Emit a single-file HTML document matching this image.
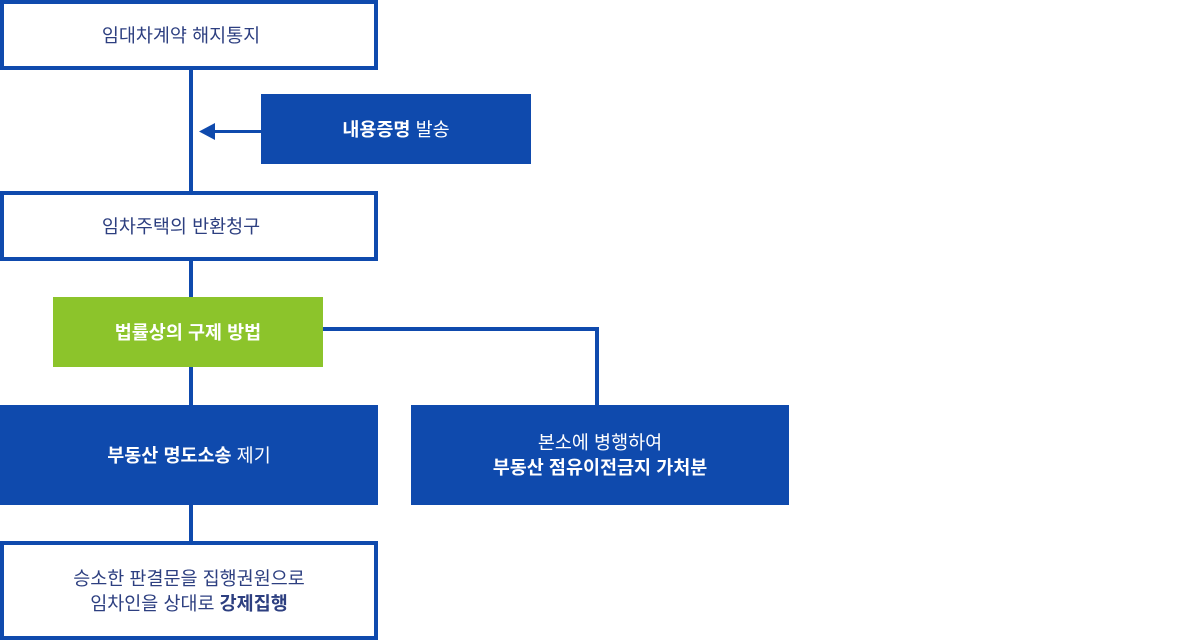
<!DOCTYPE html>
<html><head><meta charset="utf-8"><style>
body{margin:0;width:1200px;height:640px;background:#fff;position:relative;overflow:hidden;font-family:"Liberation Sans","Noto Sans CJK KR",sans-serif;}
.b{position:absolute;box-sizing:border-box;display:flex;align-items:center;justify-content:center;text-align:center;font-size:18.5px;line-height:25px;}
.o{border:4px solid #0f4aad;color:#2d3f80;background:#fff;}
.f{background:#0f4aad;color:#fff;}
.g{background:#8cc42b;color:#fff;font-weight:bold;}
.l{position:absolute;background:#0f4aad;}
b{font-weight:bold;}
</style></head><body>
<div class="l" style="left:189px;top:66px;width:4px;height:130px"></div>
<div class="l" style="left:189px;top:258px;width:4px;height:150px"></div>
<div class="l" style="left:189px;top:503px;width:4px;height:40px"></div>
<div class="l" style="left:212px;top:130px;width:50px;height:3px"></div>
<svg style="position:absolute;left:199px;top:123px" width="16" height="17"><polygon points="0,8.5 16,0 16,17" fill="#0f4aad"/></svg>
<div class="l" style="left:320px;top:327px;width:279px;height:4px"></div>
<div class="l" style="left:595px;top:327px;width:4px;height:80px"></div>
<div class="b o" style="left:0;top:0;width:378px;height:70px;padding-right:16px">임대차계약 해지통지</div>
<div class="b f" style="left:261px;top:94px;width:270px;height:70px"><span><b>내용증명</b> 발송</span></div>
<div class="b o" style="left:0;top:191px;width:378px;height:70px;padding-right:16px">임차주택의 반환청구</div>
<div class="b g" style="left:53px;top:297px;width:270px;height:70px">법률상의 구제 방법</div>
<div class="b f" style="left:0;top:405px;width:378px;height:100px"><span><b>부동산 명도소송</b> 제기</span></div>
<div class="b f" style="left:411px;top:405px;width:378px;height:100px"><span>본소에 병행하여<br><b>부동산 점유이전금지 가처분</b></span></div>
<div class="b o" style="left:0;top:541px;width:378px;height:99px"><span>승소한 판결문을 집행권원으로<br>임차인을 상대로 <b>강제집행</b></span></div>
</body></html>
